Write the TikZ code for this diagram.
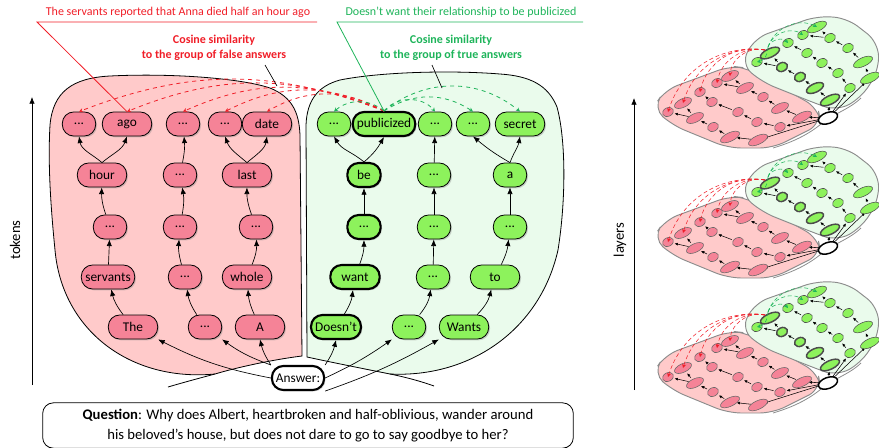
\documentclass[tikz,border=0pt]{standalone}
\usepackage{fontspec}
\setmainfont{Carlito}
\usepackage{tikz}
\usetikzlibrary{shadows,arrows.meta}

\definecolor{falsenode}{RGB}{245,131,151}
\definecolor{falseblob}{RGB}{255,202,202}
\definecolor{truenode}{RGB}{141,242,92}
\definecolor{trueblob}{RGB}{234,251,236}
\definecolor{falsered}{RGB}{240,30,40}
\definecolor{truegreen}{RGB}{30,180,90}

\tikzset{
  tok/.style={rectangle, rounded corners=8.5pt, draw, line width=0.6pt, minimum height=18pt,
    minimum width=37pt, inner xsep=3pt, inner ysep=0pt,
    font=\fontsize{10}{12}\selectfont,
    drop shadow={opacity=0.35, shadow xshift=1pt, shadow yshift=-1pt}},
  dotbox/.style={tok, minimum width=25pt},
  ftok/.style={tok, fill=falsenode},
  fdot/.style={dotbox, fill=falsenode},
  ttok/.style={tok, fill=truenode},
  tdot/.style={dotbox, fill=truenode},
  hot/.style={line width=1.6pt},
  link/.style={-{Latex[length=5pt,width=4pt]}, line width=0.5pt},
  fsim/.style={falsered, dashed, line width=0.6pt, -{Stealth[length=3pt,width=3pt]}},
  tsim/.style={truegreen, dashed, line width=0.6pt, -{Stealth[length=3pt,width=3pt]}},
  mf/.style={draw=black!60, fill=falsenode, line width=0.4pt},
  mt/.style={draw=black!70, fill=truenode, line width=0.4pt},
  mlink/.style={-{Latex[length=2.5pt,width=2.2pt]}, line width=0.4pt, shorten >=5pt, shorten <=5pt}
}

% small copy of the graph, seen from the side
\newcommand{\layerview}[1]{%
\begin{scope}[shift={(0,#1)}]
  \draw[fill=falseblob, draw=black!45, line width=0.7pt, rounded corners=10pt]
    (653,108) -- (665,90) -- (730,66) -- (747,68) -- (818,108) -- (821,124)
    -- (773,148) -- (728,148) -- (672,125) -- cycle;
  \draw[fill=trueblob, draw=black!45, line width=0.7pt, rounded corners=10pt]
    (741,64) -- (755,38) -- (817,16) -- (847,18) -- (878,42) -- (879,70)
    -- (861,98) -- (837,111) -- (817,104) -- (762,82) -- cycle;
  \draw[black!45, line width=0.6pt] (773,148) .. controls (800,140) and (815,130) .. (828,118);
  \draw[black!45, line width=0.6pt] (828,118) .. controls (845,110) and (855,104) .. (861,98);
  % chains
  \foreach \xa/\ya/\xb/\yb in {828/118/802/117, 802/117/780/108, 780/108/763/97,
      763/97/745/88, 745/88/730/76, 745/88/717/83,
      828/118/780/127, 780/127/757/122, 757/122/738/112, 738/112/712/102, 712/102/700/92,
      828/118/758/140, 758/140/730/137, 730/137/713/127, 713/127/695/118,
      695/118/683/103, 695/118/668/112,
      828/118/830/100, 830/100/815/88, 815/88/800/77, 800/77/782/67, 782/67/770/53, 782/67/757/62,
      828/118/850/88, 850/88/838/73, 838/73/822/63, 822/63/807/53, 807/53/788/43,
      828/118/870/78, 870/78/863/62, 863/62/848/48, 848/48/830/38, 830/38/817/27, 830/38/803/35}
    {\draw[mlink] (\xa,\ya) -- (\xb,\yb);}
  \foreach \x/\y/\r in {758/140/9, 730/137/9, 713/127/5, 695/118/8, 683/103/8, 668/112/5,
      780/127/5, 757/122/5, 738/112/5, 712/102/5, 700/92/5,
      802/117/9, 780/108/8, 763/97/5, 745/88/8, 730/76/8, 717/83/5}
    {\draw[mf, rotate around={25:(\x,\y)}] (\x,\y) ellipse (\r*1.15 and 4.3);}
  \foreach \x/\y/\r in {757/62/5, 850/88/5, 838/73/5, 822/63/5, 807/53/5, 788/43/5,
      870/78/9, 863/62/9, 848/48/5, 830/38/5, 817/27/9, 803/35/5}
    {\draw[mt, rotate around={25:(\x,\y)}] (\x,\y) ellipse (\r*1.15 and 4.3);}
  \foreach \x/\y/\r in {830/100/9, 815/88/8, 800/77/5, 782/67/5, 770/53/9}
    {\draw[mt, line width=1.1pt, rotate around={25:(\x,\y)}] (\x,\y) ellipse (\r*1.15 and 4.3);}
  \draw[fill=white, line width=1.1pt, rotate around={20:(828,118)}] (828,118) ellipse (10 and 5.5);
  \foreach \x/\y/\b in {668/112/40, 683/103/40, 700/92/45, 717/83/45, 730/76/50}
    {\draw[fsim, line width=0.4pt, densely dashed] (765,50) to[bend right=\b] (\x,\y);}
  \foreach \x/\y/\b in {757/62/40, 788/43/60, 803/35/55, 817/27/50}
    {\draw[tsim, line width=0.4pt, densely dashed] (768,47) to[bend left=\b] (\x,\y);}
\end{scope}}

\begin{document}
\begin{tikzpicture}[x=0.75pt, y=-0.75pt]
  \useasboundingbox (0,0) rectangle (879,447);

  % groups of answers
  \draw[fill=falseblob, line width=0.6pt] (302,356) .. controls (270,360) and (235,368) .. (215,374)
    .. controls (130,382) and (62,330) .. (55,250)
    .. controls (50,200) and (48,160) .. (50,125)
    .. controls (53,92) and (72,78) .. (110,76)
    .. controls (170,73) and (240,78) .. (270,88)
    .. controls (292,97) and (299,112) .. (300,135) -- cycle;
  \draw[line width=0.6pt] (215,374) .. controls (200,378) and (185,382) .. (168,387);
  \draw[fill=trueblob, line width=0.6pt] (307,357) .. controls (330,362) and (365,369) .. (390,374)
    .. controls (470,378) and (540,330) .. (558,250)
    .. controls (566,200) and (566,140) .. (557,107)
    .. controls (548,85) and (530,76) .. (500,74)
    .. controls (450,70) and (380,72) .. (340,80)
    .. controls (318,86) and (307,100) .. (306,125) -- cycle;
  \draw[line width=0.6pt] (390,374) .. controls (405,377) and (420,381) .. (434,386);

  % axes
  \draw[link] (32,385) -- (32,97);
  \node[rotate=90, font=\fontsize{11}{13}\selectfont] (tokens) at (15,240) {tokens};
  \draw[link] (634,390) -- (634,98);
  \node[rotate=90, font=\fontsize{11}{13}\selectfont] (layers) at (620,240) {layers};

  % false answers
  \node[fdot] (fTopA) at (79,124) {...};
  \node[ftok] (fAgo) at (127,124) {ago};
  \node[fdot] (fTopB) at (183,124) {...};
  \node[fdot] (fTopC) at (225,124) {...};
  \node[ftok] (fDate) at (267,124) {date};
  \node[ftok] (fHour) at (102,175) {hour};
  \node[fdot] (fMidB) at (180,175) {...};
  \node[ftok] (fLast) at (247,175) {last};
  \node[fdot] (fDotsA) at (110,227) {...};
  \node[fdot] (fDotsB) at (180,227) {...};
  \node[fdot] (fDotsC) at (256,227) {...};
  \node[ftok] (fServants) at (108,277) {servants};
  \node[fdot] (fLowB) at (185,277) {...};
  \node[ftok] (fWhole) at (247,277) {whole};
  \node[ftok] (fThe) at (133,327) {The};
  \node[fdot] (fStartB) at (205,327) {...};
  \node[ftok] (fA) at (260,327) {A};

  % true answers
  \node[tdot] (tTopA) at (334,124) {...};
  \node[ttok, hot] (tPub) at (384,124) {publicized};
  \node[tdot] (tTopB) at (435,124) {...};
  \node[tdot] (tTopC) at (473,124) {...};
  \node[ttok] (tSecret) at (520,124) {secret};
  \node[tdot, hot] (tBe) at (364,175) {be};
  \node[tdot] (tMidB) at (434,175) {...};
  \node[tdot] (tA) at (510,175) {a};
  \node[tdot, hot] (tDotsA) at (364,227) {...};
  \node[tdot] (tDotsB) at (434,227) {...};
  \node[tdot] (tDotsC) at (510,227) {...};
  \node[ttok, hot] (tWant) at (355,277) {want};
  \node[tdot] (tLowB) at (433,277) {...};
  \node[ttok] (tTo) at (495,277) {to};
  \node[ttok, hot] (tDoesnt) at (336,327) {Doesn’t};
  \node[tdot] (tStartB) at (409,327) {...};
  \node[ttok] (tWants) at (464,327) {Wants};

  \node[tok, hot, fill=white, minimum width=36pt] (answer) at (298,378) {Answer:};

  % token chains
  \draw[link] (fThe) to[bend left=12] (fServants);
  \draw[link] (fServants) -- (fDotsA);
  \draw[link] (fDotsA) to[bend left=10] (fHour);
  \draw[link] (fHour.north) to[out=140, in=-80] (fTopA.south);
  \draw[link] (fHour.north) to[out=40, in=-110] (fAgo.south);
  \draw[link] (fStartB) to[bend left=12] (fLowB);
  \draw[link] (fLowB) to[bend left=10] (fDotsB);
  \draw[link] (fDotsB) to[bend right=10] (fMidB);
  \draw[link] (fMidB) to[bend right=8] (fTopB);
  \draw[link] (fA) to[bend left=10] (fWhole);
  \draw[link] (fWhole) to[bend right=12] (fDotsC);
  \draw[link] (fDotsC) to[bend left=10] (fLast);
  \draw[link] (fLast.north) to[out=140, in=-70] (fTopC.south);
  \draw[link] (fLast.north) to[out=40, in=-100] (fDate.south);

  \draw[link] (tDoesnt) to[bend right=12] (tWant);
  \draw[link] (tWant) to[bend right=10] (tDotsA);
  \draw[link] (tDotsA) -- (tBe);
  \draw[link] (tBe.north) to[out=140, in=-60] (tTopA.south);
  \draw[link] (tBe.north) to[out=40, in=-120] (tPub.south);
  \draw[link] (tStartB) to[bend right=15] (tLowB);
  \draw[link] (tLowB) -- (tDotsB);
  \draw[link] (tDotsB) -- (tMidB);
  \draw[link] (tMidB) -- (tTopB);
  \draw[link] (tWants) to[bend right=15] (tTo);
  \draw[link] (tTo) to[bend right=10] (tDotsC);
  \draw[link] (tDotsC) -- (tA);
  \draw[link] (tA.north) to[out=150, in=-40] (tTopC.south);
  \draw[link] (tA.north) to[out=70, in=-100] (tSecret.south);

  % from the answer
  \draw[link] (answer.west) to[bend left=8] (fThe.south east);
  \draw[link] (answer.north west) to[bend left=8] (fStartB.south east);
  \draw[link] (answer.north west) to[bend left=10] (fA.south);
  \draw[link] (answer.north east) to[bend right=10] (tDoesnt.south);
  \draw[link] (answer.east) to[bend right=5] (tStartB.south west);
  \draw[link] (answer.south east) to[bend right=5] (tWants.south west);

  % cosine similarity
  \draw[fsim] (tPub.north) to[bend right=21] (fTopA.north);
  \draw[fsim] (tPub.north) to[bend right=22] (fAgo.north);
  \draw[fsim] (tPub.north) to[bend right=24] (fTopB.north);
  \draw[fsim] (tPub.north) to[bend right=27] (fTopC.north);
  \draw[fsim] (tPub.north) to[bend right=30] (fDate.north);
  \draw[tsim] (tPub.north) to[bend right=40] (tTopA.north);
  \draw[tsim] (tPub.north) to[bend left=50] (tTopB.north);
  \draw[tsim] (tPub.north) to[bend left=33] (tTopC.north);
  \draw[tsim] (tPub.north) to[bend left=39] (tSecret.north);

  \node[falsered, font=\bfseries\fontsize{9}{11}\selectfont, align=center] (fCos) at (214,48)
    {Cosine similarity\\to the group of false answers};
  \coordinate (fPoint) at (277,86);
  \draw[line width=0.5pt] (265,65) -- (fPoint);
  \node[truegreen, font=\bfseries\fontsize{9}{11}\selectfont, align=center] (tCos) at (451,48)
    {Cosine similarity\\to the group of true answers};
  \coordinate (tPoint) at (442,88);
  \draw[line width=0.5pt] (432,65) -- (tPoint);

  % the answers themselves
  \node[falsered, font=\fontsize{9}{11}\selectfont] (fText) at (178,12)
    {The servants reported that Anna died half an hour ago};
  \coordinate (fLeft) at (37,22);
  \coordinate (fRight) at (317,22);
  \draw[falsered, line width=0.6pt] (fAgo.north) -- (fLeft) -- (fRight);
  \node[truegreen, font=\fontsize{9}{11}\selectfont] (tText) at (461,12)
    {Doesn't want their relationship to be publicized};
  \coordinate (tLeft) at (337,22);
  \coordinate (tRight) at (583,22);
  \draw[truegreen, line width=0.6pt] (tPub.north) -- (tLeft) -- (tRight);

  % question
  \node[draw, line width=0.6pt, rounded corners=8pt, minimum width=398pt, minimum height=34pt,
    align=center, font=\fontsize{11}{15}\selectfont] (question) at (308,425.5)
    {\textbf{Question}: Why does Albert, heartbroken and half-oblivious, wander around\\
     his beloved’s house, but does not dare to go to say goodbye to her?};

  % layers
  \layerview{0}
  \layerview{130}
  \layerview{265}
\end{tikzpicture}
\end{document}
